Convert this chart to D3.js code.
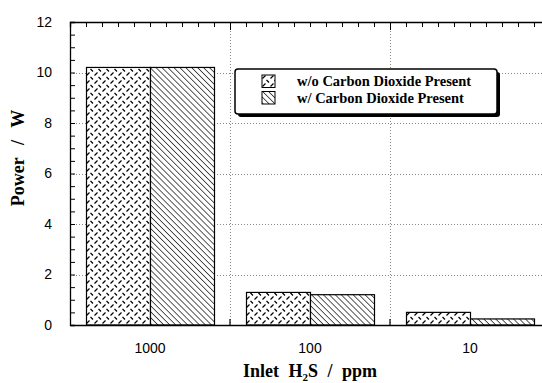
<!DOCTYPE html>
<html>
<head>
<meta charset="utf-8">
<script src="https://cdn.jsdelivr.net/npm/d3@7"></script>
<style>
  body { margin: 0; background: #fff; }
  svg { display: block; }
</style>
</head>
<body>
<svg id="main" width="542" height="383"></svg>
<script>
// data
const categories = ['1000', '100', '10'];
const series = ['w/o Carbon Dioxide Present', 'w/ Carbon Dioxide Present'];
const withoutCO2 = [10.2, 1.29, 0.5];
const withCO2 = [10.2, 1.2, 0.24];
const yTickLabels = [0, 2, 4, 6, 8, 10, 12];

const values = [withoutCO2, withCO2];
const rows = categories.map((c, i) => ({ cat: c, vals: series.map((s, j) => ({ s, v: values[j][i] })) }));

const margin = { left: 70, top: 22, right: 550, bottom: 325 };

let svg = d3.select('#main');

// patterns
let defs = svg.append('defs');
let p1 = defs.append('pattern')
  .attr('id', 'plate')
  .attr('patternUnits', 'userSpaceOnUse')
  .attr('width', 8).attr('height', 8);
p1.append('rect').attr('width', 8).attr('height', 8).attr('fill', '#fff');
p1.append('path')
  .attr('d', 'M0.5,3.5 L3.5,0.5 M4.5,5 L7,7.5')
  .attr('stroke', '#000').attr('stroke-width', 1.2).attr('fill', 'none');

let p2 = defs.append('pattern')
  .attr('id', 'hatch')
  .attr('patternUnits', 'userSpaceOnUse')
  .attr('width', 4.2).attr('height', 4.2)
  .attr('patternTransform', 'rotate(-45)');
p2.append('rect').attr('width', 4.2).attr('height', 4.2).attr('fill', '#fff');
p2.append('line').attr('x1', 0).attr('y1', 0).attr('x2', 0).attr('y2', 4.2)
  .attr('stroke', '#000').attr('stroke-width', 1.3);

const fills = ['url(#plate)', 'url(#hatch)'];

// scales
let x = d3.scaleBand().domain(categories).range([margin.left, margin.right]);
let xSub = d3.scaleBand().domain(series).range([x.bandwidth() * 0.1, x.bandwidth() * 0.9]);
let xLin = d3.scaleLinear().domain([0, categories.length]).range([margin.left, margin.right]);
let y = d3.scaleLinear().domain([0, 12]).range([margin.bottom, margin.top]);

// grid
let grid = svg.append('g').attr('class', 'grid')
  .attr('stroke', '#888').attr('stroke-width', 1).attr('stroke-dasharray', '1,2');
grid.selectAll('.hg').data(yTickLabels.filter(d => d > 0 && d < 12)).join('line')
  .attr('x1', margin.left).attr('x2', margin.right)
  .attr('y1', d => Math.round(y(d)) + 0.5).attr('y2', d => Math.round(y(d)) + 0.5);
grid.selectAll('.vg').data(categories.slice(1)).join('line')
  .attr('x1', d => Math.round(x(d)) + 0.5).attr('x2', d => Math.round(x(d)) + 0.5)
  .attr('y1', margin.top).attr('y2', margin.bottom);

// bars
let groups = svg.append('g').selectAll('g').data(rows).join('g')
  .attr('transform', d => `translate(${x(d.cat)},0)`);
groups.selectAll('rect').data(d => d.vals).join('rect')
  .attr('x', d => xSub(d.s) + 0.5)
  .attr('y', d => y(d.v))
  .attr('width', xSub.bandwidth())
  .attr('height', d => y(0) - y(d.v))
  .attr('fill', (d, i) => fills[i])
  .attr('stroke', '#000').attr('stroke-width', 1.2);

// axes
let tickFont = g => g.selectAll('text')
  .attr('font-family', '"Liberation Sans", Arial, sans-serif')
  .attr('font-size', 14).attr('fill', '#000');

let yAxis = svg.append('g')
  .attr('transform', `translate(${margin.left},0)`)
  .call(d3.axisLeft(y).tickValues(d3.range(0, 12.01, 0.5)).tickSize(-5).tickPadding(18)
    .tickFormat(d => yTickLabels.includes(d) ? d : ''));
yAxis.select('.domain').attr('stroke-width', 1.3);
yAxis.call(tickFont);
yAxis.selectAll('.tick line').attr('stroke-width', 1);

let topAxis = svg.append('g')
  .attr('transform', `translate(0,${margin.top})`)
  .call(d3.axisTop(xLin).tickValues(d3.range(0, categories.length + 0.01, 0.1)).tickSize(-5).tickFormat(''));
topAxis.select('.domain').attr('stroke-width', 1.3);
topAxis.selectAll('.tick line').attr('y2', d => Math.abs(d - Math.round(d)) < 1e-6 ? 8 : 5);

let bottomAxis = svg.append('g')
  .attr('transform', `translate(0,${margin.bottom})`)
  .call(d3.axisBottom(x).tickSize(0).tickPadding(18));
bottomAxis.select('.domain').attr('stroke-width', 1.3);
bottomAxis.call(tickFont);
bottomAxis.selectAll('.bticks').data(categories.slice(1)).join('line')
  .attr('x1', d => x(d)).attr('x2', d => x(d))
  .attr('y1', 0).attr('y2', -6)
  .attr('stroke', '#000').attr('stroke-width', 1.2);

// titles
svg.append('text')
  .attr('transform', `translate(24,158) rotate(-90)`)
  .attr('text-anchor', 'middle')
  .attr('font-family', '"Liberation Serif", "Times New Roman", serif')
  .attr('font-weight', 'bold').attr('font-size', 18)
  .attr('word-spacing', 8)
  .text('Power / W');

let xt = svg.append('text')
  .attr('x', 310).attr('y', 377)
  .attr('text-anchor', 'middle')
  .attr('font-family', '"Liberation Serif", "Times New Roman", serif')
  .attr('font-weight', 'bold').attr('font-size', 18)
  .attr('word-spacing', 5);
xt.append('tspan').text('Inlet H');
xt.append('tspan').attr('font-size', 11).attr('dy', 4).text('2');
xt.append('tspan').attr('dy', -4).text('S / ppm');

// legend
let legend = svg.append('g').attr('transform', 'translate(235,69)');
legend.append('rect').attr('x', 3).attr('y', 3).attr('width', 262).attr('height', 45)
  .attr('rx', 3).attr('fill', '#000');
legend.append('rect').attr('width', 262).attr('height', 45)
  .attr('rx', 3).attr('fill', '#fff').attr('stroke', '#000').attr('stroke-width', 1.5);
let items = legend.selectAll('.item').data(series).join('g')
  .attr('transform', (d, i) => `translate(27,${6 + i * 16.5})`);
items.append('rect').attr('width', 13).attr('height', 12.5)
  .attr('fill', (d, i) => fills[i]).attr('stroke', '#000').attr('stroke-width', 1);
items.append('text')
  .attr('x', 35).attr('y', 11)
  .attr('font-family', '"Liberation Serif", "Times New Roman", serif')
  .attr('font-weight', 'bold').attr('font-size', 14.5)
  .text(d => d);
</script>
</body>
</html>
